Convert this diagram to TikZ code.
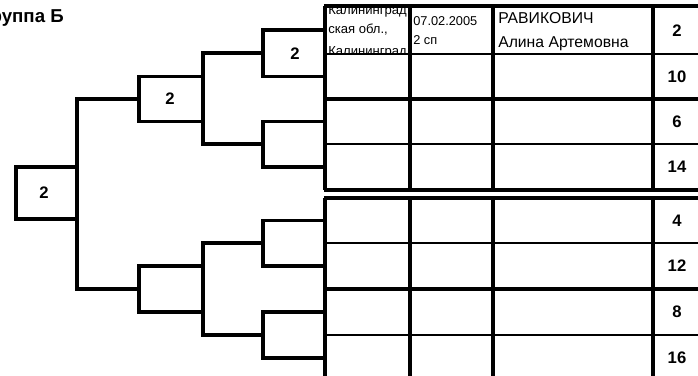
\documentclass[tikz,border=0pt]{standalone}
\usepackage{fontspec}
\setmainfont{Liberation Sans}
\begin{document}
\begin{tikzpicture}[x=0.75pt,y=-0.75pt,
  brk/.style={line width=2.7pt,line join=miter,line cap=rect},
  hthick/.style={line width=2.3pt},
  hthin/.style={line width=1.3pt},
  vline/.style={line width=2.3pt},
  num/.style={font=\bfseries\fontsize{12.5}{14}\selectfont,inner sep=0pt},
  cellsmall/.style={font=\fontsize{9.8}{11}\selectfont,inner sep=0pt,anchor=base west},
  celldate/.style={font=\fontsize{9.6}{11}\selectfont,inner sep=0pt,anchor=base west},
  cellname/.style={font=\fontsize{11.8}{13}\selectfont,inner sep=0pt,anchor=base west},
  grp/.style={font=\bfseries\fontsize{14}{16}\selectfont,inner sep=0pt,anchor=base east}]
\useasboundingbox (0,0) rectangle (698,375);
\clip (0,0) rectangle (698,375);

% group label
\node[grp] (group) at (64,22) {Группа Б};

% ---------- upper table ----------
\draw[hthick] (323.9,6) -- (705,6);
\draw[hthin]  (325,54) -- (705,54);
\draw[hthick] (325,99) -- (705,99);
\draw[hthin]  (325,144) -- (705,144);
\draw[hthick] (323.9,190) -- (705,190);
\foreach \x in {325,410,493,653} \draw[vline] (\x,6) -- (\x,190);

% ---------- lower table ----------
\draw[hthick] (323.9,198) -- (705,198);
\draw[hthin]  (325,243) -- (705,243);
\draw[hthick] (325,289) -- (705,289);
\draw[hthin]  (325,335) -- (705,335);
\draw[hthick] (323.9,381) -- (705,381);
\foreach \x in {325,410,493,653} \draw[vline] (\x,198) -- (\x,381);

% ---------- first row texts ----------
\begin{scope}
  \clip (326.5,7.2) rectangle (408.8,53.3);
  \node[cellsmall] (reg1) at (328,14) {Калининград};
  \node[cellsmall] (reg2) at (328,33.5) {ская обл.,};
  \node[cellsmall] (reg3) at (328,55) {Калининград};
\end{scope}
\node[celldate] (date) at (413,25.5) {07.02.2005};
\node[celldate] (rank) at (413,44.5) {2 сп};
\node[cellname] (sname) at (498,23.5) {РАВИКОВИЧ};
\node[cellname] (fname) at (498,47) {Алина Артемовна};

% ---------- seed numbers ----------
\node[num] (n1) at (677,30.5)  {2};
\node[num] (n2) at (677,76.5)  {10};
\node[num] (n3) at (677,121.5) {6};
\node[num] (n4) at (677,167)   {14};
\node[num] (n5) at (677,220.5) {4};
\node[num] (n6) at (677,266)   {12};
\node[num] (n7) at (677,312)   {8};
\node[num] (n8) at (677,358)   {16};

% ---------- bracket coordinates ----------
\coordinate (t1) at (325,30);
\coordinate (t2) at (325,76.5);
\coordinate (t3) at (325,121.5);
\coordinate (t4) at (325,167);
\coordinate (t5) at (325,220.5);
\coordinate (t6) at (325,266);
\coordinate (t7) at (325,312);
\coordinate (t8) at (325,358);
\coordinate (q1) at (263,53.25);
\coordinate (q2) at (263,144.25);
\coordinate (q3) at (263,243.25);
\coordinate (q4) at (263,335);
\coordinate (s1) at (203,99);
\coordinate (s1t) at (203,76.5);
\coordinate (s1b) at (203,121.5);
\coordinate (p1) at (139,99);
\coordinate (s2) at (203,289);
\coordinate (s2t) at (203,266);
\coordinate (s2b) at (203,312);
\coordinate (p2) at (139,289);
\coordinate (f1) at (77,99);
\coordinate (f2) at (77,289);
\coordinate (ft) at (77,167);
\coordinate (fb) at (77,219);
\coordinate (fl) at (16,193);

% round 1
\draw[brk] (t1) -| (q1) |- (t2);
\draw[brk] (t3) -| (q2) |- (t4);
\draw[brk] (t5) -| (q3) |- (t6);
\draw[brk] (t7) -| (q4) |- (t8);
% round 2
\draw[brk] (q1) -| (s1) |- (q2);
\draw[brk] (q3) -| (s2) |- (q4);
\draw[brk] (s1t) -| (p1) |- (s1b);
\draw[brk] (s2t) -| (p2) |- (s2b);
\draw[brk] (p1) -- (f1);
\draw[brk] (p2) -- (f2);
% final
\draw[brk] (f1) -- (f2);
\draw[brk] (ft) -| (fl) |- (fb);

% winners
\node[num] (w1) at (295,54) {2};
\node[num] (w2) at (170,99) {2};
\node[num] (w3) at (44,193) {2};
\end{tikzpicture}
\end{document}
